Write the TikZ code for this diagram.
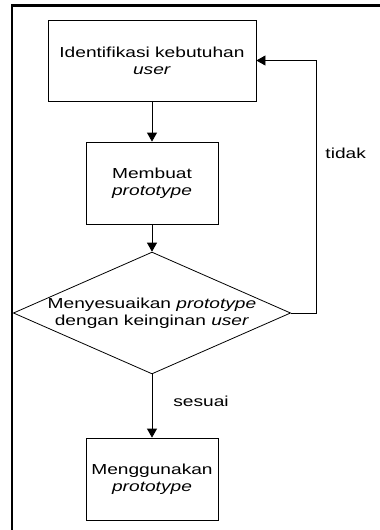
\documentclass[tikz,border=0pt]{standalone}
\usepackage{fontspec}
\setmainfont{Liberation Sans}[FakeStretch=1.32]
\usetikzlibrary{arrows.meta,shapes.geometric}

\begin{document}
\begin{tikzpicture}[
  x=1pt,y=-1pt,
  font=\fontsize{14.5}{16.7}\selectfont,
  >={Triangle[length=9pt,width=10pt]},
  line width=0.8pt,
  stepbox/.style={draw,align=center,inner sep=2pt,
                  minimum width=132pt,minimum height=82pt},
  check/.style={draw,diamond,aspect=2.275,inner sep=0pt,align=center,
                minimum width=273pt,minimum height=120pt},
  flow/.style={->},
  lbl/.style={inner sep=1pt},
  frame/.style={line width=2.5pt},
]
\useasboundingbox (0,0) rectangle (380,530);

% ---- page frame (only top and left edge visible) ----
\draw[frame] (380,5.5) -- (12,5.5) -- (12,530);

% ---- the prototyping steps ----
\node[stepbox,minimum width=208pt,minimum height=81pt] (ident) at (152,60.5)
     {Identifikasi kebutuhan\\\textit{user}};
\node[stepbox] (build) at (152,183) {Membuat\\\textit{prototype}};
\node[check] (fit) at (152,313)
     {Menyesuaikan \textit{prototype}\\dengan keinginan \textit{user}};
\node[stepbox] (use) at (152,479) {Menggunakan\\\textit{prototype}};

% ---- connectors ----
\draw[flow] (ident.south) -- (build.north);
\draw[flow] (build.south) -- (fit.north);
\draw[flow] (fit.south) -- node[lbl,pos=0.43,right=20pt] (ok) {sesuai} (use.north);

% not yet right: back to the needs analysis
\draw[flow] (fit.east) -- ++(25,0) |- node[lbl,pos=0.316,right=8pt] (no) {tidak}
      (ident.east);

\end{tikzpicture}
\end{document}
